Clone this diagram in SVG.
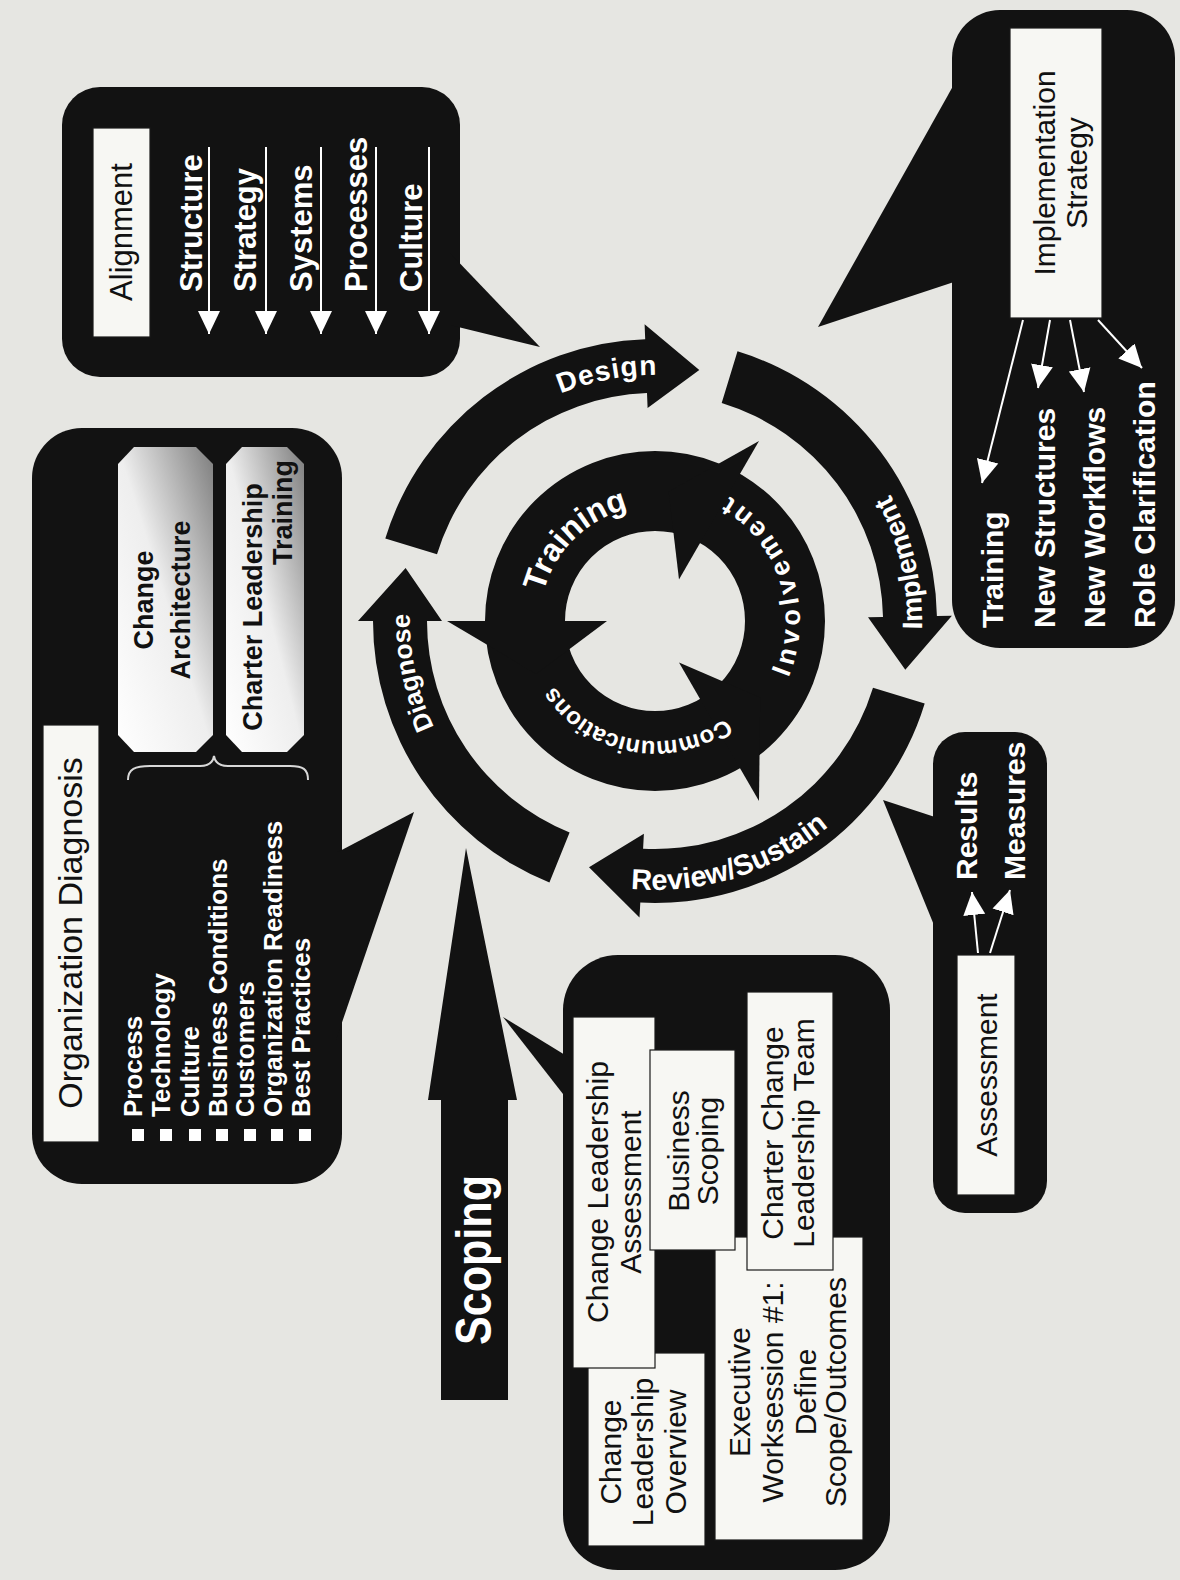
<svg xmlns="http://www.w3.org/2000/svg" width="1180" height="1580" viewBox="0 0 1180 1580">
<defs>
<style>
.t{font-family:"Liberation Sans",Arial,Helvetica,sans-serif}
.blk{fill:#121212}
.lbl{fill:#f7f7f3;stroke:#1a1a1a;stroke-width:1.2}
.w{fill:#ffffff;font-weight:bold}
.k{fill:#111111}
.bd{font-weight:bold}
.conn line{stroke:#ffffff;stroke-width:2;marker-end:url(#wa)}
.brace{fill:none;stroke:#d8d8d8;stroke-width:2}
</style>
<marker id="wa" markerUnits="userSpaceOnUse" markerWidth="24" markerHeight="24" viewBox="0 0 24 24" refX="23" refY="12" orient="auto">
<path d="M0,1 L23,12 L0,23 Z" fill="#ffffff"/>
</marker>
<linearGradient id="shade" x1="0" y1="1" x2="1" y2="0">
<stop offset="0" stop-color="#ffffff"/>
<stop offset="0.5" stop-color="#eeeeee"/>
<stop offset="1" stop-color="#7d7d7d"/>
</linearGradient>
<path id="pDesign" d="M493.6,435.3 A246,246 0 0,1 735.1,388.4"/>
<path id="pDiagnose" d="M472.9,784.9 A245,245 0 0,1 422.0,545.3"/>
<path id="pImplement" d="M910.7,698.0 A267,267 0 0,0 849.5,438.1"/>
<path id="pReview" d="M596.8,883.6 A269,269 0 0,0 853.3,802.7"/>
<path id="pTraining" d="M541.6,640.0 A115,115 0 0,1 676.0,507.9"/>
<path id="pInvolve" d="M764.4,716.1 A145,145 0 0,0 682.7,478.7"/>
<path id="pComm" d="M746.2,698.9 A120,120 0 0,1 541.9,661.1"/>
</defs>

<rect x="0" y="0" width="1180" height="1580" fill="#e6e6e2"/>

<!-- Alignment callout -->
<g id="alignment">
<rect class="blk" x="62" y="87" width="398" height="290" rx="38"/>
<polygon class="blk" points="450,253 540,347 450,325"/>
<rect class="lbl" x="93" y="128" width="57" height="209"/>
<text class="t k" font-size="31" text-anchor="middle" transform="translate(132,232) rotate(-90)">Alignment</text>
<g class="t w" font-size="31">
<text transform="translate(202,292) rotate(-90)">Structure</text>
<text transform="translate(256,292) rotate(-90)">Strategy</text>
<text transform="translate(312,292) rotate(-90)">Systems</text>
<text transform="translate(367,292) rotate(-90)">Processes</text>
<text transform="translate(422,292) rotate(-90)">Culture</text>
</g>
</g>

<!-- Organization Diagnosis callout -->
<g id="org-diagnosis">
<rect class="blk" x="32" y="428" width="310" height="756" rx="50"/>
<polygon class="blk" points="336,853 414,812 336,1040"/>
<rect class="lbl" x="43" y="725" width="56" height="417"/>
<text class="t k" font-size="34" text-anchor="middle" transform="translate(82,933) rotate(-90)">Organization Diagnosis</text>
<polygon points="134,447 196,447 213,464 213,735 196,752 134,752 118,735 118,464" fill="url(#shade)"/>
<polygon points="242,447 287,447 304,464 304,735 287,752 242,752 226,735 226,464" fill="url(#shade)"/>
<g class="t k bd" font-size="27">
<text text-anchor="middle" transform="translate(153,600) rotate(-90)">Change</text>
<text text-anchor="middle" transform="translate(190,600) rotate(-90)">Architecture</text>
<text text-anchor="middle" transform="translate(262,607) rotate(-90)">Charter Leadership</text>
<text text-anchor="end" transform="translate(292,460) rotate(-90)">Training</text>
</g>
<path class="brace" d="M128,780 C128,769 135,766 150,766 L200,766 C209,766 213,762 214,756 C215,762 219,766 228,766 L290,766 C303,766 308,769 308,780"/>
<g fill="#ffffff">
<rect x="132" y="1129" width="12" height="12"/>
<rect x="160" y="1129" width="12" height="12"/>
<rect x="189" y="1129" width="12" height="12"/>
<rect x="216" y="1129" width="12" height="12"/>
<rect x="244" y="1129" width="12" height="12"/>
<rect x="271" y="1129" width="12" height="12"/>
<rect x="299" y="1129" width="12" height="12"/>
</g>
<g class="t w" font-size="26">
<text transform="translate(142,1117) rotate(-90)">Process</text>
<text transform="translate(170,1117) rotate(-90)">Technology</text>
<text transform="translate(199,1117) rotate(-90)">Culture</text>
<text transform="translate(227,1117) rotate(-90)">Business Conditions</text>
<text transform="translate(254,1117) rotate(-90)">Customers</text>
<text transform="translate(282,1117) rotate(-90)">Organization Readiness</text>
<text transform="translate(310,1117) rotate(-90)">Best Practices</text>
</g>
</g>

<!-- Implementation Strategy callout -->
<g id="implementation">
<rect class="blk" x="952" y="10" width="223" height="638" rx="48"/>
<polygon class="blk" points="957,79 818,327 957,281"/>
<rect class="lbl" x="1010" y="28" width="92" height="290"/>
<g class="t k" font-size="30" text-anchor="middle">
<text transform="translate(1055,173) rotate(-90)">Implementation</text>
<text transform="translate(1087,173) rotate(-90)">Strategy</text>
</g>
<g class="t w" font-size="30">
<text transform="translate(1003,628) rotate(-90)">Training</text>
<text transform="translate(1055,628) rotate(-90)">New Structures</text>
<text transform="translate(1105,628) rotate(-90)">New Workflows</text>
<text transform="translate(1155,628) rotate(-90)">Role Clarification</text>
</g>
</g>

<!-- Assessment callout -->
<g id="assessment">
<rect class="blk" x="933" y="732" width="114" height="481" rx="32"/>
<polygon class="blk" points="938,818 883,800 938,935"/>
<rect class="lbl" x="957" y="955" width="58" height="240"/>
<text class="t k" font-size="30" text-anchor="middle" transform="translate(997,1075) rotate(-90)">Assessment</text>
<g class="t w" font-size="30">
<text transform="translate(977,880) rotate(-90)">Results</text>
<text transform="translate(1025,880) rotate(-90)">Measures</text>
</g>
</g>

<!-- Scoping callout -->
<g id="scoping-box">
<rect class="blk" x="563" y="955" width="327" height="615" rx="55"/>
<polygon class="blk" points="570,1058 503,1017 570,1103"/>
<rect class="lbl" x="588" y="1353" width="117" height="193"/>
<rect class="lbl" x="573" y="1017" width="82" height="351"/>
<rect class="lbl" x="715" y="1237" width="148" height="303"/>
<rect class="lbl" x="650" y="1050" width="85" height="200"/>
<rect class="lbl" x="747" y="992" width="86" height="278"/>
<g class="t k" font-size="30" text-anchor="middle">
<text transform="translate(608,1192) rotate(-90)">Change Leadership</text>
<text transform="translate(641,1192) rotate(-90)">Assessment</text>
<text transform="translate(689,1151) rotate(-90)">Business</text>
<text transform="translate(718,1151) rotate(-90)">Scoping</text>
<text transform="translate(783,1133) rotate(-90)">Charter Change</text>
<text transform="translate(814,1133) rotate(-90)">Leadership Team</text>
<text transform="translate(621,1452) rotate(-90)">Change</text>
<text transform="translate(653,1452) rotate(-90)">Leadership</text>
<text transform="translate(686,1452) rotate(-90)">Overview</text>
<text transform="translate(750,1392) rotate(-90)">Executive</text>
<text transform="translate(783,1392) rotate(-90)">Worksession #1:</text>
<text transform="translate(816,1392) rotate(-90)">Define</text>
<text transform="translate(846,1392) rotate(-90)">Scope/Outcomes</text>
</g>
</g>

<!-- Scoping arrow -->
<g id="scoping-arrow">
<polygon class="blk" points="441,1400 441,1100 428,1100 466,848 517,1100 508,1100 508,1400"/>
<text class="t w" font-size="50" textLength="170" lengthAdjust="spacingAndGlyphs" transform="translate(491,1345) rotate(-90)">Scoping</text>
</g>

<!-- Outer cycle -->
<g id="cycle">
<path class="blk" d="M549.4,882.5 A282,282 0 0,1 373,621 L358,621 L405.6,568 L442,621 L427,621 A228,228 0 0,0 569.6,832.4 Z"/>
<path class="blk" d="M385.3,538.5 A282,282 0 0,1 645.2,339.2 L644.6,324.2 L699.3,369.9 L647.6,408.1 L647,393.1 A228,228 0 0,0 437,554.3 Z"/>
<path class="blk" d="M737.5,351.3 A282,282 0 0,1 936.9,616.1 L951.9,615.8 L905.3,669.7 L868,617.3 L883,617 A228,228 0 0,0 721.7,403 Z"/>
<path class="blk" d="M924.7,703.5 A282,282 0 0,1 640.3,902.6 L639.5,917.6 L589,867.3 L643.9,833.7 L643.1,848.7 A228,228 0 0,0 873,687.7 Z"/>
<g class="t w">
<text font-size="28" letter-spacing="1"><textPath href="#pDesign" startOffset="50%" text-anchor="middle">Design</textPath></text>
<text font-size="26"><textPath href="#pDiagnose" startOffset="50%" text-anchor="middle">Diagnose</textPath></text>
<text font-size="28"><textPath href="#pImplement" startOffset="50%" text-anchor="middle">Implement</textPath></text>
<text font-size="29"><textPath href="#pReview" startOffset="50%" text-anchor="middle">Review/Sustain</textPath></text>
</g>
</g>

<!-- Inner cycle -->
<g id="inner-cycle">
<circle cx="655" cy="621" r="130" fill="none" stroke="#121212" stroke-width="80"/>
<polygon class="blk" points="759,440.9 668.6,491.7 679,579.4"/>
<polygon class="blk" points="447,621 536.2,673.9 607,621"/>
<polygon class="blk" points="759,801.1 760.2,697.4 679,662.6"/>
<g class="t w">
<text font-size="32"><textPath href="#pTraining" startOffset="50%" text-anchor="middle">Training</textPath></text>
<text font-size="27" letter-spacing="5"><textPath href="#pInvolve" startOffset="50%" text-anchor="middle">Involvement</textPath></text>
<text font-size="24"><textPath href="#pComm" startOffset="50%" text-anchor="middle">Communications</textPath></text>
</g>
</g>

<!-- Connectors (white arrows inside callouts) -->
<g id="connectors" class="conn">
<line x1="209" y1="147" x2="209" y2="334"/>
<line x1="266" y1="147" x2="266" y2="334"/>
<line x1="321" y1="147" x2="321" y2="334"/>
<line x1="376" y1="147" x2="376" y2="334"/>
<line x1="429" y1="147" x2="429" y2="334"/>
<line x1="1023" y1="320" x2="982" y2="483"/>
<line x1="1050" y1="320" x2="1038" y2="388"/>
<line x1="1070" y1="320" x2="1084" y2="392"/>
<line x1="1098" y1="320" x2="1142" y2="368"/>
<line x1="978" y1="953" x2="972" y2="892"/>
<line x1="990" y1="953" x2="1010" y2="890"/>
</g>
</svg>
